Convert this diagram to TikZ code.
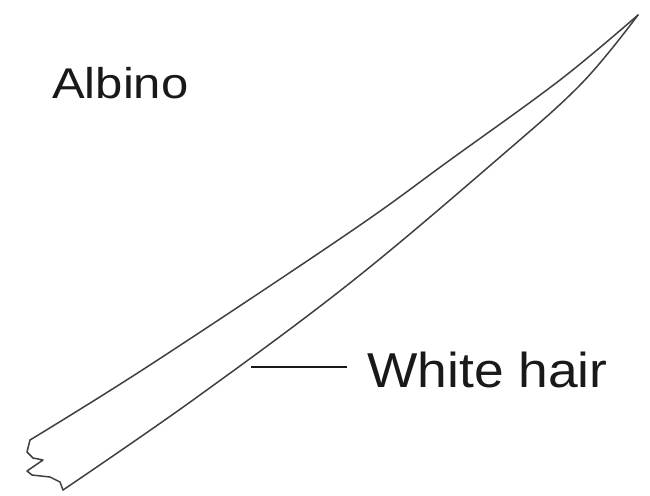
\documentclass[tikz,border=0pt]{standalone}
\usepackage{fontspec}
\setmainfont{Liberation Sans}
\begin{document}
\begin{tikzpicture}[x=1pt,y=-1pt,
  edge/.style={line width=1.5pt,draw=black!75,line join=round,line cap=round},
  leader/.style={line width=1.8pt,draw=black!90},
  label/.style={inner sep=0pt,anchor=base west,text=black!90}]
  \useasboundingbox (0,0) rectangle (650,495);
  % hair outline: upper and lower edges meeting at the tip
  \coordinate (tip) at (638,15);
  \draw[edge] plot[smooth,tension=0.6] coordinates
    {(30,440) (150,365) (350,232) (450,160) (560,80) (tip)};
  \draw[edge] plot[smooth,tension=0.6] coordinates
    {(63,490) (193,400) (350,283) (500,157) (582,83) (tip)};
  % broken end of the shaft
  \draw[edge] (30,440) -- (27,452) -- (33,458) -- (43,460) -- (27,471)
    -- (32,475) -- (50,477) -- (60,482) -- (63,490);
  % labels
  \node[label] (albino) at (52,98) {\scalebox{1.14}[1]{\fontsize{43}{43}\selectfont Albino}};
  \node[label] (white) at (367,387) {\scalebox{1.09}[1]{\fontsize{49}{49}\selectfont White hair}};
  \coordinate (lead) at (251,367);
  \draw[leader] (lead) -- ([xshift=-20pt]white.base west |- lead);
\end{tikzpicture}
\end{document}
